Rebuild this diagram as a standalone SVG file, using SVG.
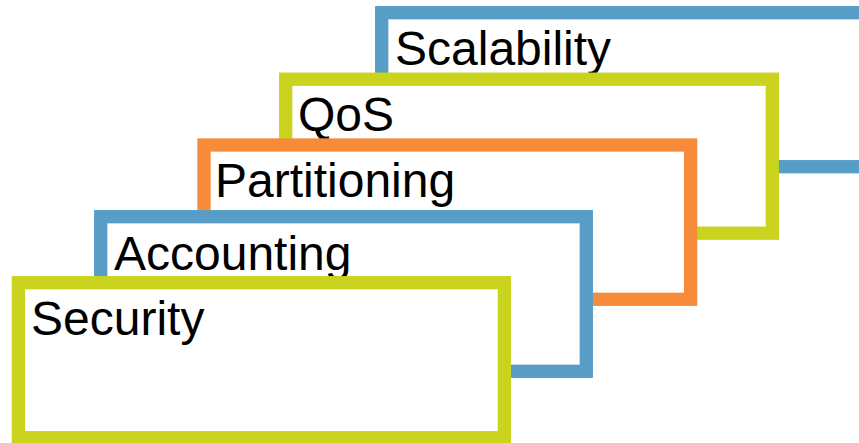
<svg xmlns="http://www.w3.org/2000/svg" width="859" height="443" viewBox="0 0 859 443">
<style>
.box{fill:#ffffff;stroke-width:13.3}
.blue{stroke:#589dc6}
.green{stroke:#cad41f}
.orange{stroke:#f68b3a}
.lbl{font-family:"Liberation Sans",Arial,sans-serif;font-size:48px;fill:#000000}
</style>
<rect width="859" height="443" fill="#ffffff"/>
<g id="scalability">
<rect class="box blue" x="381.7" y="12.7" width="486.6" height="154"/>
<text class="lbl" x="395" y="65">Scalability</text>
</g>
<g id="qos">
<rect class="box green" x="285.7" y="79.2" width="486.6" height="154"/>
<text class="lbl" x="298" y="131">QoS</text>
</g>
<g id="partitioning">
<rect class="box orange" x="204" y="145" width="486.6" height="154.3"/>
<text class="lbl" x="215" y="197">Partitioning</text>
</g>
<g id="accounting">
<rect class="box blue" x="100.7" y="216.7" width="485.6" height="154.6"/>
<text class="lbl" x="114" y="270">Accounting</text>
</g>
<g id="security">
<rect class="box green" x="18.4" y="282.7" width="486" height="155"/>
<text class="lbl" x="31" y="335">Security</text>
</g>
<g id="connectors"></g>
</svg>
